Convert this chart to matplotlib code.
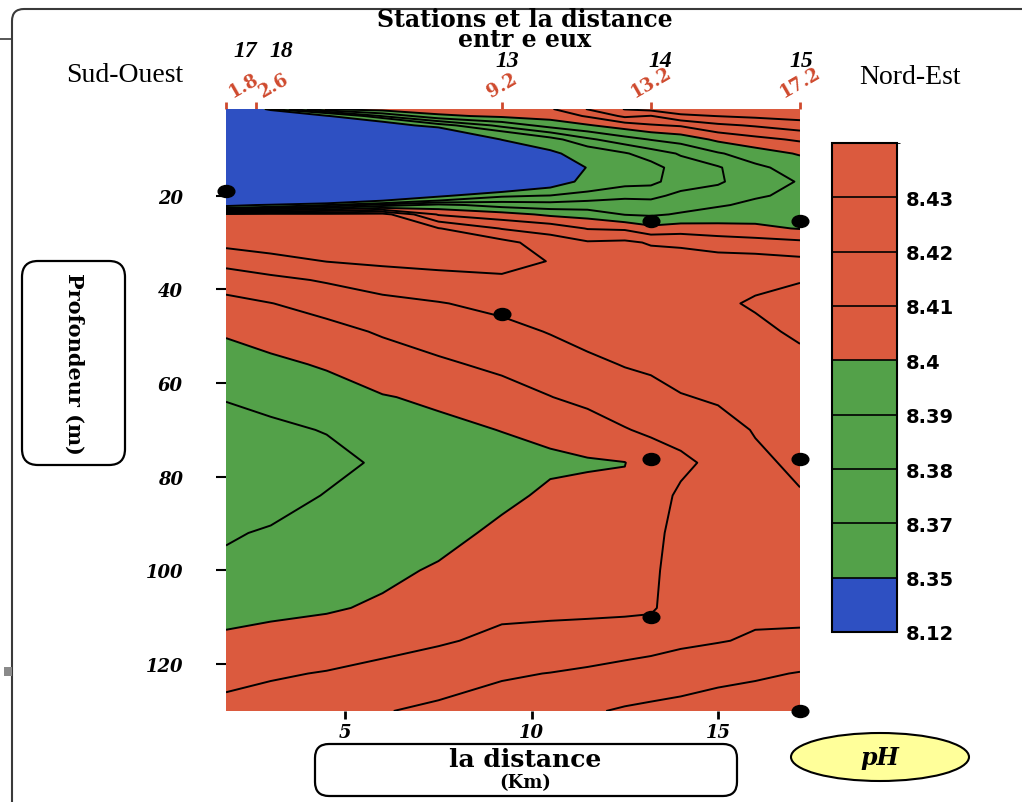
import numpy as np
import matplotlib
matplotlib.use("Agg")
import matplotlib.pyplot as plt
from matplotlib.colors import ListedColormap, BoundaryNorm
from matplotlib.cm import ScalarMappable
from matplotlib.patches import FancyBboxPatch, Ellipse, Rectangle
from matplotlib.lines import Line2D
from matplotlib.path import Path

# ---------------------------------------------------------------------------
# pH section (distance along the transect x depth)
# ---------------------------------------------------------------------------
distance_km = [1.8, 3.0, 4.5, 6.0, 7.5, 9.2, 10.5, 11.5, 12.5, 13.2, 14.0, 15.0, 16.0, 17.2]
depth_m = [1.5, 3, 5, 8, 11, 14, 17, 20, 22, 24, 27, 30, 34, 38, 43, 49, 56,
           63, 70, 77, 84, 92, 100, 108, 115, 122, 130]

# one vertical pH profile per distance column (surface -> bottom)
ph_1_8 = [8.22, 8.19, 8.17, 8.15, 8.14, 8.14, 8.16, 8.20, 8.34, 8.434, 8.437, 8.433, 8.423, 8.415,
          8.407, 8.401, 8.396, 8.3905, 8.387, 8.385, 8.386, 8.389, 8.392, 8.397, 8.4015, 8.407, 8.413]
ph_3_0 = [8.37, 8.24, 8.18, 8.16, 8.15, 8.15, 8.16, 8.21, 8.355, 8.435, 8.438, 8.435, 8.4265, 8.4176,
          8.4098, 8.404, 8.398, 8.393, 8.388, 8.385, 8.386, 8.391, 8.3946, 8.398, 8.4028, 8.409, 8.414]
ph_4_5 = [8.401, 8.348, 8.24, 8.18, 8.16, 8.16, 8.17, 8.26, 8.37, 8.434, 8.438, 8.436, 8.4302, 8.421,
          8.4135, 8.4071, 8.401, 8.3958, 8.3905, 8.387, 8.3905, 8.3933, 8.396, 8.399, 8.4046, 8.4105, 8.416]
ph_6_0 = [8.405, 8.381, 8.33, 8.22, 8.18, 8.18, 8.19, 8.31, 8.385, 8.434, 8.438, 8.437, 8.432, 8.4244,
          8.4174, 8.411, 8.4053, 8.3995, 8.395, 8.3915, 8.393, 8.396, 8.398, 8.4013, 8.407, 8.4125, 8.4195]
ph_7_5 = [8.406, 8.398, 8.365, 8.26, 8.20, 8.19, 8.21, 8.345, 8.393, 8.409, 8.4305, 8.437, 8.433, 8.4267,
          8.4195, 8.4144, 8.4085, 8.4015, 8.398, 8.3955, 8.395, 8.397, 8.401, 8.4055, 8.409, 8.415, 8.422]
ph_9_2 = [8.407, 8.402, 8.383, 8.352, 8.28, 8.25, 8.30, 8.368, 8.386, 8.404, 8.4195, 8.433, 8.435, 8.4276,
          8.4225, 8.4172, 8.412, 8.4062, 8.4002, 8.397, 8.398, 8.4019, 8.405, 8.408, 8.412, 8.419, 8.424]
ph_10_5 = [8.409, 8.404, 8.394, 8.366, 8.345, 8.31, 8.335, 8.3705, 8.384, 8.398, 8.416, 8.425, 8.4295, 8.427,
           8.4245, 8.4205, 8.4151, 8.4098, 8.402, 8.3985, 8.4015, 8.4035, 8.406, 8.408, 8.4131, 8.4202, 8.428]
ph_11_5 = [8.4205, 8.411, 8.399, 8.378, 8.362, 8.352, 8.358, 8.375, 8.384, 8.396, 8.4095, 8.421, 8.426, 8.428,
           8.427, 8.4235, 8.4178, 8.4125, 8.4055, 8.399, 8.4025, 8.403, 8.405, 8.408, 8.414, 8.4215, 8.429]
ph_12_5 = [8.4305, 8.422, 8.405, 8.386, 8.369, 8.362, 8.366, 8.378, 8.384, 8.3895, 8.4085, 8.422, 8.4265, 8.428,
           8.4275, 8.4255, 8.4205, 8.415, 8.4095, 8.3998, 8.4015, 8.404, 8.406, 8.408, 8.4155, 8.423, 8.431]
ph_13_2 = [8.433, 8.4195, 8.409, 8.3905, 8.375, 8.366, 8.367, 8.378, 8.383, 8.3885, 8.403, 8.419, 8.425, 8.428,
           8.4275, 8.4255, 8.4215, 8.417, 8.4115, 8.405, 8.406, 8.407, 8.408, 8.4085, 8.4165, 8.424, 8.432]
ph_14_0 = [8.436, 8.428, 8.411, 8.394, 8.381, 8.375, 8.376, 8.382, 8.386, 8.391, 8.405, 8.418, 8.425, 8.428,
           8.428, 8.4265, 8.4235, 8.4195, 8.4135, 8.408, 8.4115, 8.4135, 8.4145, 8.416, 8.4185, 8.4245, 8.4335]
ph_15_0 = [8.438, 8.4302, 8.418, 8.402, 8.389, 8.379, 8.3785, 8.385, 8.389, 8.394, 8.4035, 8.4155, 8.424, 8.428,
           8.4285, 8.427, 8.4245, 8.421, 8.417, 8.4125, 8.4145, 8.416, 8.417, 8.418, 8.4195, 8.427, 8.435]
ph_16_0 = [8.44, 8.432, 8.421, 8.407, 8.395, 8.388, 8.3865, 8.389, 8.392, 8.396, 8.402, 8.414, 8.424, 8.428,
           8.431, 8.428, 8.4255, 8.4225, 8.4205, 8.4185, 8.4165, 8.416, 8.4165, 8.418, 8.421, 8.4285, 8.436]
ph_17_2 = [8.442, 8.434, 8.425, 8.4115, 8.401, 8.394, 8.3905, 8.392, 8.3945, 8.397, 8.3995, 8.412, 8.4225, 8.4295,
           8.4335, 8.4315, 8.4275, 8.4245, 8.4225, 8.4215, 8.4195, 8.4175, 8.4175, 8.4185, 8.421, 8.4305, 8.437]

# stations along the transect
station_names = ["17", "18", "13", "14", "15"]
station_km = [1.8, 2.6, 9.2, 13.2, 17.2]

# sampling points shown as dots
sample_km = [1.8, 13.2, 17.2, 9.2, 13.2, 17.2, 13.2, 17.2]
sample_depth = [19, 25.5, 25.5, 45.3, 76.2, 76.2, 110, 130]

# colour classes
ph_levels = [8.12, 8.35, 8.37, 8.38, 8.39, 8.40, 8.41, 8.42, 8.43, 8.44]
ph_tick_labels = ["8.12", "8.35", "8.37", "8.38", "8.39", "8.4", "8.41", "8.42", "8.43"]
depth_ticks = [20, 40, 60, 80, 100, 120]
distance_ticks = [5, 10, 15]

BLUE = "#2E50C2"
GREEN = "#53A149"
RED = "#DB5A3E"
LABEL_RED = "#CF4A2E"
band_colors = [BLUE, GREEN, GREEN, GREEN, GREEN, RED, RED, RED, RED]

W, H = 1022, 803
fig = plt.figure(figsize=(W / 100, H / 100), dpi=100)
fig.patch.set_facecolor("white")


def fx(px):
    return px / W


def fy(py):
    return 1 - py / H


# flattened dot used for the sampling points
_circle = Path.unit_circle()
oval_marker = Path(_circle.vertices * np.array([1.0, 0.72]), _circle.codes)

# ---------------------------------------------------------------------------
# main section plot
# ---------------------------------------------------------------------------
ax = fig.add_axes([fx(226), fy(712), fx(800) - fx(226), fy(110) - fy(712)])
Z = np.column_stack([ph_1_8, ph_3_0, ph_4_5, ph_6_0, ph_7_5, ph_9_2, ph_10_5,
                     ph_11_5, ph_12_5, ph_13_2, ph_14_0, ph_15_0, ph_16_0, ph_17_2])
X, Y = np.meshgrid(distance_km, depth_m)
fill_levels = ph_levels[:-1] + [8.45]
ax.contourf(X, Y, Z, levels=fill_levels, colors=band_colors)
ax.contour(X, Y, Z, levels=ph_levels[1:-1], colors="black", linewidths=1.4)
ax.plot(sample_km, sample_depth, linestyle="none", marker=oval_marker, color="black",
        ms=12, clip_on=False, zorder=5)

ax.set_xlim(1.8, 17.2)
ax.set_ylim(130, 1.5)
for s in ax.spines.values():
    s.set_visible(False)

ax.set_xticks(distance_ticks)
ax.set_xticklabels([str(t) for t in distance_ticks])
ax.set_yticks(depth_ticks)
ax.set_yticklabels([str(t) for t in depth_ticks])
ax.tick_params(axis="x", direction="out", length=6, width=2, pad=3, labelsize=13)
ax.tick_params(axis="y", direction="out", length=7, width=1.5, pad=24, labelsize=13)
for lab in ax.get_xticklabels() + ax.get_yticklabels():
    lab.set_fontfamily("DejaVu Serif")
    lab.set_fontstyle("italic")
    lab.set_fontweight("bold")

# station distances on the top edge
top = ax.secondary_xaxis("top")
top.set_xticks(station_km)
top.set_xticklabels([f"{v:g}" for v in station_km])
top.tick_params(direction="out", length=5, width=2, color=LABEL_RED,
                labelcolor=LABEL_RED, pad=1, labelsize=13, labelrotation=30)
for s in top.spines.values():
    s.set_visible(False)
top_align = ["left", "left", "center", "center", "center"]
for lab, ha in zip(top.get_xticklabels(), top_align):
    lab.set_fontweight("bold")
    lab.set_fontfamily("DejaVu Serif")
    lab.set_horizontalalignment(ha)

# station numbers above the distances
station_offsets = [(14, 38), (18, 38), (4, 31), (7, 31), (1, 31)]
for name, km, off in zip(station_names, station_km, station_offsets):
    ax.annotate(name, xy=(km, 1.5), xycoords="data", xytext=off,
                textcoords="offset points", ha="center", va="baseline",
                fontsize=17, fontstyle="italic", fontweight="bold",
                family="Liberation Serif", annotation_clip=False)

# ---------------------------------------------------------------------------
# colour bar
# ---------------------------------------------------------------------------
cax = fig.add_axes([fx(832), fy(633), fx(897) - fx(832), fy(144) - fy(633)])
cmap = ListedColormap(band_colors)
norm = BoundaryNorm(ph_levels, cmap.N)
cb = fig.colorbar(ScalarMappable(norm=norm, cmap=cmap), cax=cax,
                  boundaries=ph_levels, spacing="uniform",
                  ticks=ph_levels[:-1], drawedges=True)
cb.set_ticklabels(ph_tick_labels)
cb.ax.tick_params(length=0, pad=6, labelsize=14)
for lab in cb.ax.get_yticklabels():
    lab.set_fontweight("bold")
cb.outline.set_linewidth(1.5)
cb.dividers.set_color("black")
cb.dividers.set_linewidth(1.2)

# ---------------------------------------------------------------------------
# titles, labels and frames
# ---------------------------------------------------------------------------
fig.text(fx(525), fy(30), "Stations et la distance\nentr e eux", ha="center", va="center",
         multialignment="center", linespacing=0.8,
         fontsize=17, fontweight="bold", family="DejaVu Serif")
fig.text(fx(125), fy(75), "Sud-Ouest", ha="center", va="center",
         fontsize=20, family="Liberation Serif")
fig.text(fx(910), fy(78), "Nord-Est", ha="center", va="center",
         fontsize=20, family="Liberation Serif")


def rounded_box(x0, y0, x1, y1, r, **kw):
    box = FancyBboxPatch((fx(x0), fy(y1)), fx(x1) - fx(x0), fy(y0) - fy(y1),
                         boxstyle=f"round,pad=0,rounding_size={r / W}",
                         mutation_aspect=W / H, transform=fig.transFigure, **kw)
    fig.add_artist(box)
    return box


# outer frame
rounded_box(12, 10, 1060, 840, 12, facecolor="none", edgecolor="#3a3a3a", linewidth=1.5, zorder=0)
fig.add_artist(Line2D([0, fx(12)], [fy(40), fy(40)], transform=fig.transFigure,
                      color="#3a3a3a", linewidth=1.2))
fig.add_artist(Rectangle((fx(4), fy(677)), 8 / W, 9 / H, transform=fig.transFigure,
                         facecolor="#8a8a8a", edgecolor="none"))

# depth label
rounded_box(22, 262, 125, 466, 16, facecolor="white", edgecolor="black", linewidth=1.6)
fig.text(fx(74), fy(364), "Profondeur (m)", rotation=270, ha="center", va="center",
         fontsize=15, fontweight="bold", family="DejaVu Serif")

# distance label
rounded_box(315, 745, 737, 797, 14, facecolor="white", edgecolor="black", linewidth=1.6)
fig.text(fx(525), fy(760), "la distance", ha="center", va="center",
         fontsize=18, fontweight="bold", family="DejaVu Serif")
fig.text(fx(525), fy(783), "(Km)", ha="center", va="center",
         fontsize=13, fontweight="bold", family="DejaVu Serif")

# parameter tag
fig.add_artist(Ellipse((fx(880), fy(758)), 178 / W, 48 / H, transform=fig.transFigure,
                       facecolor="#FFFF9A", edgecolor="black", linewidth=1.5))
fig.text(fx(880), fy(758), "pH", ha="center", va="center", fontsize=17,
         fontstyle="italic", fontweight="bold", family="DejaVu Serif")

fig.savefig("out.png", dpi=100)
